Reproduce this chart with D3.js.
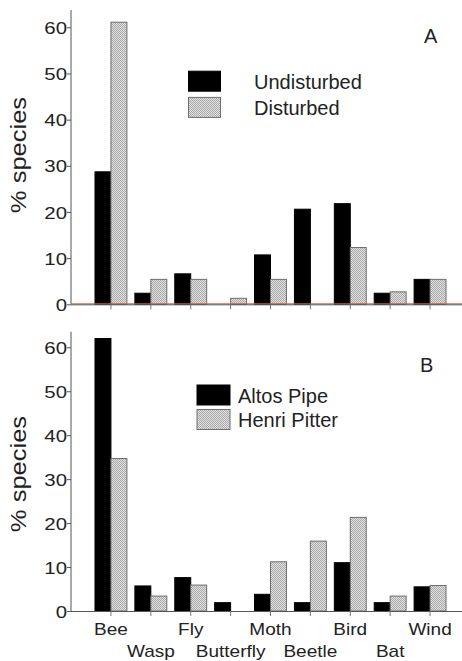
<!DOCTYPE html>
<html>
<head>
<meta charset="utf-8">
<script src="https://cdn.jsdelivr.net/npm/d3@7"></script>
<style>
  html, body { margin: 0; padding: 0; background: #ffffff; }
  svg { display: block; }
  text { font-family: "Liberation Sans", Arial, sans-serif; fill: #222; }
</style>
</head>
<body>
<svg id="chart" width="462" height="661"></svg>
<script>
// ---- data ----
const categories = ["Bee", "Wasp", "Fly", "Butterfly", "Moth", "Beetle", "Bird", "Bat", "Wind"];
const undisturbed = [28.7, 2.4, 6.6, 0, 10.7, 20.6, 21.8, 2.4, 5.4];
const disturbed   = [61.1, 5.4, 5.4, 1.3, 5.4, 0, 12.3, 2.7, 5.4];
const altosPipe   = [62.0, 5.7, 7.6, 1.9, 3.8, 1.9, 11.0, 1.9, 5.5];
const henriPitter = [34.7, 3.4, 5.9, 0, 11.2, 15.9, 21.3, 3.4, 5.8];
const yTicks = [0, 10, 20, 30, 40, 50, 60];
const seriesA = ["Undisturbed", "Disturbed"];
const seriesB = ["Altos Pipe", "Henri Pitter"];

const svg = d3.select("#chart");

// gray dotted pattern
const defs = svg.append("defs");
const pat = defs.append("pattern").attr("id", "dots")
  .attr("patternUnits", "userSpaceOnUse").attr("width", 2).attr("height", 2);
pat.append("rect").attr("width", 2).attr("height", 2).attr("fill", "#e2e2e2");
pat.append("rect").attr("width", 1).attr("height", 1).attr("fill", "#a9a9a9");
pat.append("rect").attr("x", 1).attr("y", 1).attr("width", 1).attr("height", 1).attr("fill", "#a9a9a9");

const x = d3.scaleBand().domain(categories).range([91, 450]).paddingInner(0.2).paddingOuter(0.1);
const xs = d3.scaleBand().domain([0, 1]).range([0, x.bandwidth()]);

function panel(cfg) {
  const g = svg.append("g");
  const y = d3.scaleLinear().domain([0, 60]).range([cfg.y0, cfg.y60]);
  const topVal = y.invert(cfg.yTop);

  // y axis
  const ya = g.append("g").attr("transform", "translate(71,0)")
    .call(d3.axisLeft(y).tickValues(yTicks).tickSize(4).tickSizeOuter(0).tickFormat(d3.format("d")));
  ya.select(".domain").remove();
  ya.selectAll(".tick line").attr("stroke", "#555");
  ya.selectAll(".tick text")
    .attr("x", null).attr("dy", "0.36em")
    .attr("transform", "translate(-4,0) scale(1.2,1)")
    .style("font-size", "17px").attr("fill", "#222");
  g.append("line").attr("x1", 71).attr("x2", 71)
    .attr("y1", y(topVal)).attr("y2", y(0)).attr("stroke", "#555").attr("stroke-width", 1);

  // bars
  const vals = [cfg.s0, cfg.s1];
  vals.forEach((arr, si) => {
    g.append("g").selectAll("rect")
      .data(categories.map((c, i) => ({ c, v: arr[i] })).filter(d => d.v > 0))
      .join("rect")
      .attr("x", d => x(d.c) + xs(si))
      .attr("y", d => y(d.v))
      .attr("width", xs.bandwidth())
      .attr("height", d => y(0) - y(d.v))
      .attr("fill", si === 0 ? "#000" : "url(#dots)")
      .attr("stroke", si === 0 ? "#000" : "#6e6e6e")
      .attr("stroke-width", 1);
  });

  // x axis
  if (cfg.redLine) {
    g.append("line").attr("x1", 71).attr("x2", 462)
      .attr("y1", y(0) - 0.5).attr("y2", y(0) - 0.5).attr("stroke", "#d0603c").attr("stroke-width", 1);
  }
  g.append("line").attr("x1", 71).attr("x2", 462)
    .attr("y1", y(0) + 0.5).attr("y2", y(0) + 0.5).attr("stroke", "#555").attr("stroke-width", 1);
  g.append("g").selectAll("line").data(categories).join("line")
    .attr("x1", d => x(d) + x.bandwidth() / 2).attr("x2", d => x(d) + x.bandwidth() / 2)
    .attr("y1", y(0)).attr("y2", y(0) + 5).attr("stroke", "#777");

  if (cfg.labels) {
    g.append("g").selectAll("text").data(categories).join("text")
      .attr("transform", (d, i) => `translate(${x(d) + x.bandwidth() / 2},${i % 2 === 0 ? 635 : 656.5}) scale(1.12,1)`)
      .attr("text-anchor", "middle")
      .style("font-size", "17px")
      .text(d => d);
  }

  // y label
  g.append("text")
    .attr("transform", `translate(26,${cfg.ylabelY}) rotate(-90) scale(1.16,1)`)
    .attr("text-anchor", "middle")
    .style("font-size", "22px")
    .text("% species");

  // panel letter
  g.append("text").attr("x", cfg.letterX).attr("y", cfg.letterY)
    .style("font-size", "20px").text(cfg.letter);

  // legend
  const lg = g.append("g");
  cfg.series.forEach((s, i) => {
    lg.append("rect")
      .attr("x", cfg.legX).attr("y", cfg.legY + i * cfg.legStep)
      .attr("width", cfg.legW).attr("height", 20)
      .attr("fill", i === 0 ? "#000" : "url(#dots)")
      .attr("stroke", i === 0 ? "#000" : "#6e6e6e");
    lg.append("text")
      .attr("x", cfg.legTextX).attr("y", cfg.legY + i * cfg.legStep + 17.5)
      .style("font-size", "20px").text(s);
  });
}

panel({
  y0: 304.3, y60: 27.3, yTop: 10, s0: undisturbed, s1: disturbed, redLine: true, labels: false,
  ylabelY: 155, letter: "A", letterX: 424, letterY: 43,
  series: seriesA, legX: 188.5, legY: 71.2, legStep: 26.2, legW: 32, legTextX: 254
});
panel({
  y0: 611, y60: 347.3, yTop: 331.7, s0: altosPipe, s1: henriPitter, redLine: false, labels: true,
  ylabelY: 474, letter: "B", letterX: 420, letterY: 371.5,
  series: seriesB, legX: 197, legY: 385, legStep: 24.5, legW: 33, legTextX: 238
});
</script>
</body>
</html>
